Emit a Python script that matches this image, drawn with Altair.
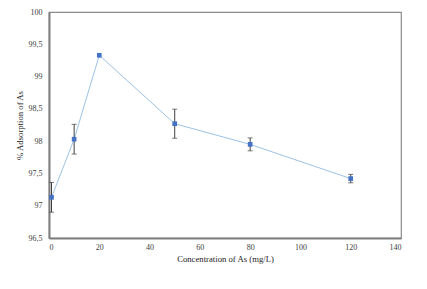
import altair as alt
import pandas as pd

conc = [1, 10, 20, 50, 80, 120]
adsorption = [97.13, 98.03, 99.33, 98.27, 97.95, 97.42]
err = [0.23, 0.23, 0.0, 0.225, 0.1, 0.065]
x_ticks = [0, 20, 40, 60, 80, 100, 120, 140]
y_ticks = [96.5, 97, 97.5, 98, 98.5, 99, 99.5, 100]

df = pd.DataFrame({"x": conc, "y": adsorption, "e": err})
df["lo"] = df["y"] - df["e"]
df["hi"] = df["y"] + df["e"]

font = "Liberation Serif"

xs = alt.Scale(domain=[0, 140], nice=False)
ys = alt.Scale(domain=[96.5, 100], nice=False, zero=False)

xax = alt.Axis(values=x_ticks, title="Concentration of As (mg/L)", labelPadding=5, titlePadding=3)
yax = alt.Axis(values=y_ticks, title="% Adsorption of As", labelPadding=7, titlePadding=4,
               labelExpr="replace(format(datum.value, '~g'), '.', ',')")

base = alt.Chart(df)

X = alt.X("x:Q", scale=xs, axis=xax)

line = base.mark_line(color="#9dc3e6", strokeWidth=1).encode(
    x=X, y=alt.Y("y:Q", scale=ys, axis=yax),
)
rules = base.transform_filter("datum.e > 0").mark_rule(color="#404040", strokeWidth=1).encode(
    x=X, y=alt.Y("lo:Q", scale=ys, axis=yax), y2="hi:Q",
)
cap_lo = base.transform_filter("datum.e > 0").mark_tick(color="#404040", size=5, thickness=1, orient="horizontal").encode(
    x=X, y=alt.Y("lo:Q", scale=ys, axis=yax),
)
cap_hi = base.transform_filter("datum.e > 0").mark_tick(color="#404040", size=5, thickness=1, orient="horizontal").encode(
    x=X, y=alt.Y("hi:Q", scale=ys, axis=yax),
)
points = base.mark_square(color="#4472c4", size=22, opacity=1).encode(
    x=X, y=alt.Y("y:Q", scale=ys, axis=yax),
)

chart = alt.layer(line, rules, cap_lo, cap_hi, points).properties(
    width=352, height=226,
    autosize=alt.AutoSizeParams(type="none"),
    padding={"left": 41, "top": 4, "right": 18, "bottom": 43},
).configure(font=font).configure_view(stroke="#8c8c8c", strokeWidth=1.2).configure_axis(
    grid=False, ticks=False, domainColor="#7f7f7f", domainWidth=2,
    labelFont=font, labelFontSize=8, labelColor="#404040", labelOverlap=False,
    titleFont=font, titleFontSize=8.7, titleFontWeight="normal", titleColor="#222222",
)

chart.save("out.html", embed_options={"renderer": "svg", "actions": False})
